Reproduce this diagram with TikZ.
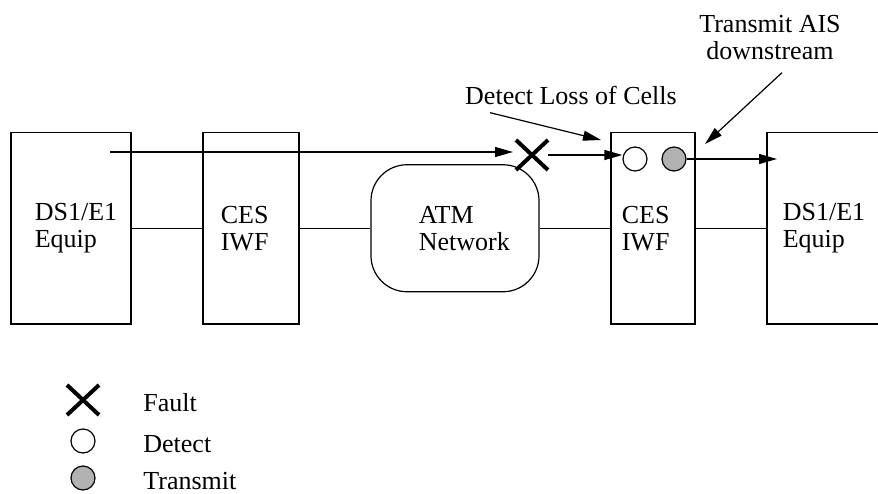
\documentclass[tikz,border=0pt]{standalone}
\usepackage{fontspec}
\setmainfont{Liberation Serif}
\usetikzlibrary{arrows.meta,positioning,shapes.misc}

\tikzset{
  box/.style={draw, line width=0.6pt, inner sep=0pt, minimum height=95.75pt},
  link/.style={line width=0.6pt},
  lbl/.style={inner sep=0pt, align=left, font=\fontsize{13}{13.5}\selectfont},
  flow/.style={line width=0.6pt, -{Triangle[length=9pt,width=5pt]}},
  fault/.style={draw, cross out, line width=2pt, inner sep=0pt, minimum width=14pt, minimum height=13pt},
  detmark/.style={draw, circle, line width=0.6pt, inner sep=0pt, minimum size=12pt},
  txmark/.style={detmark, fill=black!30}
}

\begin{document}
\begin{tikzpicture}[x=0.5pt, y=-0.5pt]
\useasboundingbox (0,0) rectangle (878,493);
% boxes along the path
\node[box, minimum width=60pt] (eqL) at (71,228.25) {};
\node[box, minimum width=48pt] (iwfL) at (251,228.25) {};
\node[box, minimum width=84pt, minimum height=63.5pt, rounded corners=18pt] (atm) at (455,228.25) {};
\node[box, minimum width=42pt] (iwfR) at (653,228.25) {};
\node[box, minimum width=70pt] (eqR) at (837,228.25) {};
\node[lbl, right=12pt of eqL.west] (eqLtxt) {DS1/E1\\Equip};
\node[lbl, right=9pt of iwfL.west] (iwfLtxt) {CES\\IWF};
\node[lbl, right=24pt of atm.west] (atmtxt) {ATM\\Network};
\node[lbl, right=5.5pt of iwfR.west] (iwfRtxt) {CES\\IWF};
\node[lbl, right=8pt of eqR.west] (eqRtxt) {DS1/E1\\Equip};
\foreach \a/\b in {eqL/iwfL,iwfL/atm,atm/iwfR,iwfR/eqR}
  \draw[link] (\a) -- (\b);

% signal path with fault
\coordinate (src) at (110,152);
\node[fault] (cut) at (532,155) {};
\node[detmark] (det) at (635,159) {};
\node[txmark] (tx) at (674,159) {};
\coordinate (sink) at (777,159);
\draw[flow, shorten >=1.5pt] (src) -- (src -| cut.west);
\draw[flow] (cut.east) -- (cut.east -| det.west);
\draw[flow] (tx) -- (sink);

% callouts
\node[lbl, anchor=base] (detlbl) at (571,104) {Detect Loss of Cells};
\node[lbl, align=center, anchor=base] (txlbl) at (770,59) {Transmit AIS\\downstream};
\coordinate (detpt) at (601,140);
\coordinate (txpt) at (705,144);
\draw[flow] ([shift={(-40.5pt,-4pt)}]detlbl.south) -- (detpt);
\draw[flow] ([shift={(6pt,-6.5pt)}]txlbl.south) -- (txpt);

% legend
\foreach \yy/\sty/\txt in {400/fault/Fault,441/detmark/Detect,478/txmark/Transmit}{
  \node[\sty] (lg\txt) at (83,\yy) {};
  \node[lbl, anchor=base west] (lg\txt txt) at (143,\yy+11) {\txt};
}
\end{tikzpicture}
\end{document}
